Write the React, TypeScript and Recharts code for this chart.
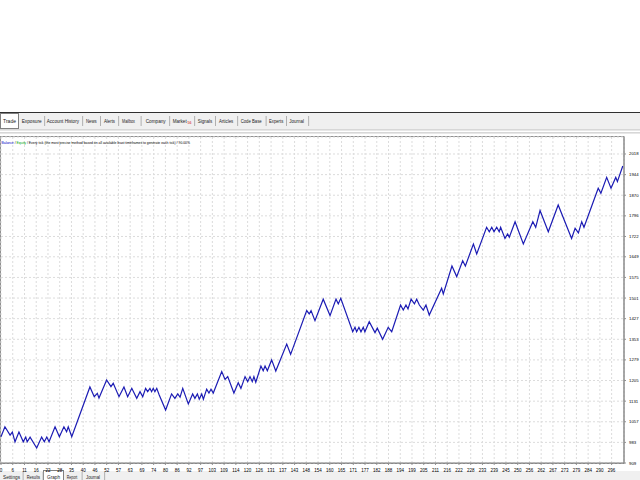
import React from 'react';
import { LineChart, Line, XAxis, YAxis, CartesianGrid } from 'recharts';

// balance curve, turning points (trade no. / balance)
const trades = [
  0, 1.9, 4.4, 5.5, 6.8, 8.7, 10.8, 12.0, 12.7, 14.1, 17.3, 19.7, 21.0, 22.2, 23.3, 26.2, 28.3, 30.5, 31.8, 32.6,
  34.3, 43.1, 45.2, 46.7, 47.5, 51.2, 53.3, 54.4, 57.2, 59.6, 61.4, 63.4, 65.8, 67.4, 68.7, 70.1, 71.1, 72.2, 73.0,
  73.8, 74.6, 75.5, 76.7, 79.8, 82.7, 84.3, 85.7, 86.8, 88.1, 90.8, 92.9, 94.0, 95.2, 96.1, 97.3, 98.1, 99.7, 100.8,
  101.8, 102.9, 107.0, 108.6, 109.9, 112.9, 115.0, 116.3, 118.3, 119.6, 120.7, 121.8, 122.6, 123.5, 126.0, 127.1,
  128.0, 129.1, 131.2, 133.2, 138.5, 140.4, 148.2, 149.4, 150.3, 152.2, 156.2, 159.5, 162.4, 163.5, 164.7, 170.5,
  171.6, 172.4, 173.5, 174.5, 175.6, 176.4, 178.5, 181.3, 182.4, 185.0, 187.7, 189.4, 193.7, 195.0, 196.3, 197.3,
  198.8, 200.4, 201.5, 202.8, 204.7, 206.0, 207.6, 213.6, 214.4, 218.6, 220.9, 223.8, 225.1, 229.0, 230.6, 235.4,
  236.7, 237.9, 239.0, 240.3, 241.5, 242.2, 244.3, 245.6, 246.4, 249.2, 253.2, 257.8, 259.2, 261.3, 265.3, 270.1,
  276.6, 278.3, 279.9, 281.5, 282.6, 289.5, 290.8, 293.6, 295.7, 298.0, 298.8, 301.4,
];
const balance = [
  1003, 1039, 1009, 1020, 985, 1020, 985, 1002, 985, 1002, 963, 1002, 985, 1002, 985, 1039, 1003, 1039, 1021, 1039,
  1003, 1182, 1147, 1159, 1142, 1207, 1183, 1195, 1147, 1182, 1147, 1177, 1141, 1165, 1147, 1177, 1165, 1177, 1165,
  1177, 1165, 1177, 1153, 1099, 1157, 1141, 1157, 1145, 1177, 1121, 1157, 1141, 1157, 1138, 1157, 1138, 1174, 1160,
  1174, 1160, 1237, 1209, 1219, 1160, 1197, 1177, 1219, 1201, 1219, 1201, 1219, 1199, 1257, 1240,
  1257, 1240, 1279, 1239, 1336, 1299, 1456, 1444, 1456, 1420, 1497, 1438, 1497, 1480, 1500, 1380,
  1396, 1380, 1396, 1380, 1396, 1380, 1416, 1377, 1393, 1353, 1396, 1380, 1476, 1458, 1476, 1462,
  1497, 1480, 1497, 1476, 1458, 1476, 1440, 1536, 1516, 1616, 1578, 1635, 1616, 1695, 1659, 1755,
  1739, 1755, 1739, 1755, 1739, 1755, 1715, 1731, 1719, 1775, 1695, 1775, 1755, 1815, 1739, 1835,
  1715, 1751, 1735, 1775, 1755, 1895, 1877, 1934, 1895, 1934, 1919, 1975,
];

const xTickLabels = [
  0, 6, 11, 16, 22, 28, 35, 40, 46, 52, 57, 63, 69, 74, 80, 86, 92, 97, 103, 109, 114, 120, 126, 131, 137, 143, 148,
  154, 160, 165, 171, 177, 182, 188, 194, 199, 205, 211, 216, 222, 228, 233, 239, 245, 250, 256, 262, 267, 273, 279,
  284, 290, 296,
];
const yTickLabels = [909, 983, 1057, 1131, 1205, 1279, 1353, 1427, 1501, 1575, 1649, 1722, 1796, 1870, 1944, 2018];

const topTabs: [string, number, number][] = [
  ['Trade', 3, 16],
  ['Exposure', 21.7, 41.7],
  ['Account History', 46.7, 79],
  ['News', 86, 96.7],
  ['Alerts', 104, 115],
  ['Mailbox', 122, 135],
  ['Company', 145.7, 165.7],
  ['Market', 172.7, 186.7],
  ['Signals', 197.7, 212.3],
  ['Articles', 219, 233.3],
  ['Code Base', 240.7, 261.7],
  ['Experts', 269, 283.3],
  ['Journal', 289.3, 304],
];
const topSeps = [44.3, 82.3, 100, 118.3, 140.7, 169.3, 194.3, 215, 237.3, 265.7, 286, 308.3];

const bottomTabs: [string, number, number][] = [
  ['Settings', 3, 20],
  ['Results', 26.7, 40],
  ['Graph', 47, 60],
  ['Report', 66.7, 77.3],
  ['Journal', 86, 100],
];
const bottomSeps = [22.7, 42.7, 81.7, 104.3];

const data = trades.map((t, i) => ({ trade: t, balance: balance[i] }));
const xTicks = xTickLabels.map((_, i) => (i * 296) / 52);

const FONT = '"Liberation Sans", Arial, sans-serif';

function XTick(props: any) {
  const { x, y, payload } = props;
  const idx = Math.round((payload.value * 52) / 296);
  return (
    <text x={x} y={y + 4.5} textAnchor="middle" fontSize={4.5} fontFamily={FONT} fill="#000">
      {xTickLabels[idx]}
    </text>
  );
}

function YTick(props: any) {
  const { x, y, payload } = props;
  return (
    <text x={x + 1} y={y + 1.5} textAnchor="start" fontSize={4.3} fontFamily={FONT} fill="#000">
      {payload.value}
    </text>
  );
}

function Chrome() {
  return (
    <svg width={640} height={480} style={{ position: 'absolute', left: 0, top: 0 }}>
      <rect x={0} y={0} width={640} height={480} fill="#fff" />
      {/* top tab bar */}
      <rect x={0} y={112} width={640} height={1} fill="#303030" />
      <rect x={0} y={113} width={640} height={16} fill="#f0f0f0" />
      <rect x={0.5} y={113.5} width={18} height={15} fill="#fff" stroke="#808080" />
      {topTabs.map(([label, x0, x1]) => (
        <text key={label} x={x0} y={122.5} fontSize={5} fontFamily={FONT} fill="#222"
          textLength={x1 - x0} lengthAdjust="spacingAndGlyphs">
          {label}
        </text>
      ))}
      <text x={187.5} y={124} fontSize={3.5} fontFamily={FONT} fill="#d00000">56</text>
      {topSeps.map((s) => (
        <rect key={s} x={s} y={116} width={0.8} height={10} fill="#a0a0a0" />
      ))}
      <rect x={0} y={129.5} width={640} height={0.8} fill="#b0b0b0" />
      <rect x={0} y={132.5} width={640} height={0.8} fill="#b0b0b0" />
      {/* graph panel */}
      <rect x={0.5} y={136.5} width={623.5} height={327} fill="#fff" stroke="#909090" />
      {/* bottom tab bar */}
      <rect x={0} y={471} width={640} height={9} fill="#f0f0f0" />
      <rect x={43.5} y={470.5} width={20} height={10} fill="#fff" stroke="#808080" />
      {bottomTabs.map(([label, x0, x1]) => (
        <text key={label} x={x0} y={478.5} fontSize={4.8} fontFamily={FONT} fill="#222"
          textLength={x1 - x0} lengthAdjust="spacingAndGlyphs">
          {label}
        </text>
      ))}
      {bottomSeps.map((s) => (
        <rect key={s} x={s} y={472} width={0.8} height={8} fill="#a0a0a0" />
      ))}
    </svg>
  );
}

function Header() {
  return (
    <svg width={640} height={480} style={{ position: 'absolute', left: 0, top: 0, pointerEvents: 'none' }}>
      <text x={1.5} y={143.5} fontSize={3.4} fontFamily={FONT} fill="#000">
        <tspan fill="#0000c8">Balance</tspan>
        <tspan> / </tspan>
        <tspan fill="#00a000">Equity</tspan>
        <tspan> / Every tick (the most precise method based on all available least timeframes to generate each tick) / 90.00%</tspan>
      </text>
    </svg>
  );
}

export default function App() {
  return (
    <div style={{ position: 'fixed', left: 0, top: 0, width: 640, height: 480, overflow: 'hidden', background: '#fff' }}>
      <Chrome />
      <div style={{ position: 'absolute', left: 0, top: 0 }}>
        <LineChart width={640} height={480} data={data} margin={{ top: 137, right: 0, bottom: 0, left: 1 }}>
          <CartesianGrid stroke="#dcdcdc" strokeDasharray="2 2" />
          <XAxis
            dataKey="trade"
            type="number"
            domain={[0, 302]}
            ticks={xTicks}
            interval={0}
            height={17}
            tickSize={2}
            tick={<XTick />}
            axisLine={{ stroke: '#808080' }}
            tickLine={{ stroke: '#909090' }}
          />
          <YAxis
            orientation="right"
            type="number"
            domain={[909, 2079]}
            ticks={yTickLabels}
            interval={0}
            width={16}
            tickSize={2}
            tick={<YTick />}
            axisLine={{ stroke: '#808080' }}
            tickLine={{ stroke: '#909090' }}
            allowDataOverflow
          />
          <Line
            type="linear"
            dataKey="balance"
            stroke="#1c1cb4"
            strokeWidth={1.2}
            dot={false}
            isAnimationActive={false}
          />
        </LineChart>
      </div>
      <Header />
    </div>
  );
}
